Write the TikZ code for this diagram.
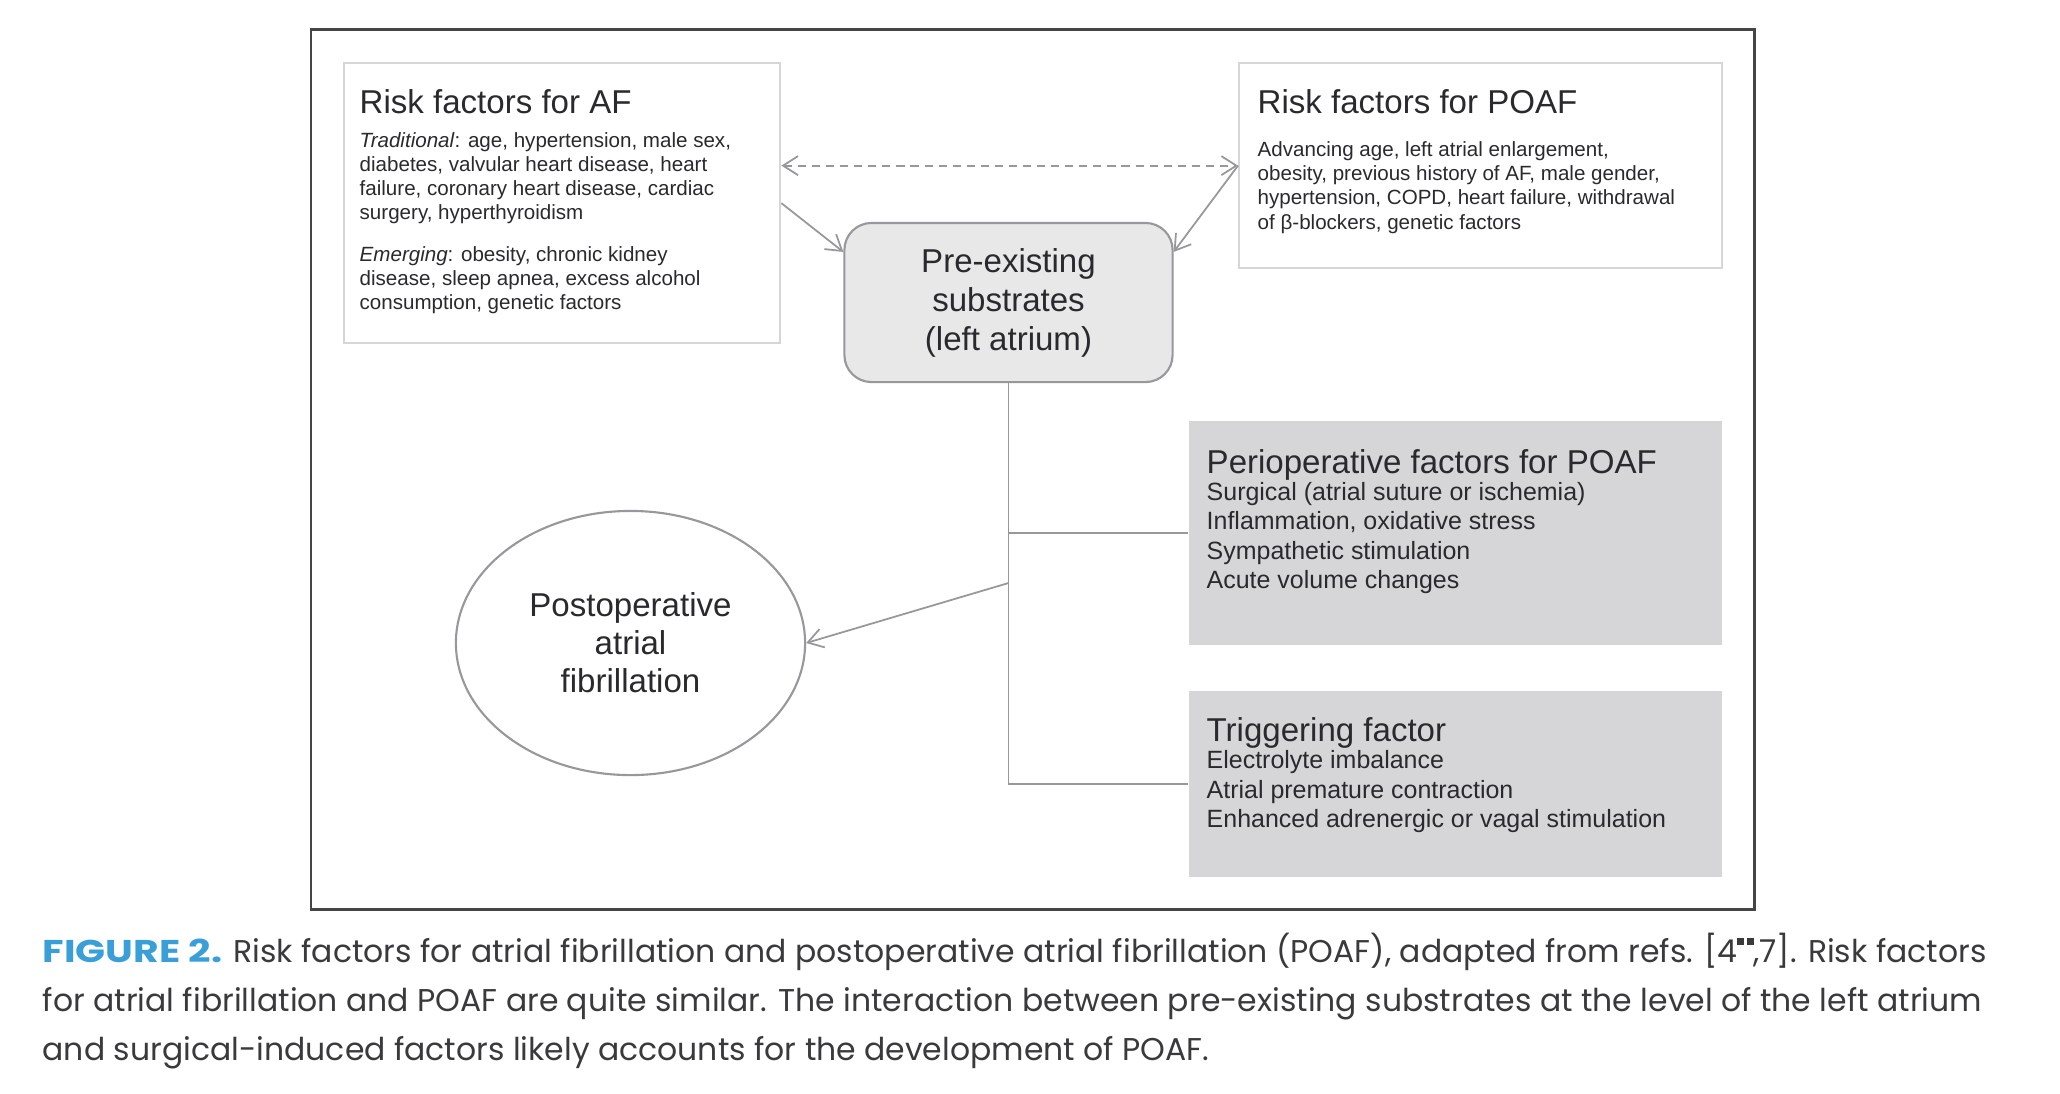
\documentclass[tikz,border=0pt]{standalone}
\usepackage{fontspec}
\usepackage{tikz}
\usepackage{xcolor}
\usetikzlibrary{arrows.meta,positioning,shapes.geometric}
\setmainfont{Liberation Sans}
\newfontfamily\capfont{Poppins}
\newfontfamily\figfont{Poppins}[FakeStretch=1.25]
\definecolor{ink}{HTML}{2A2A2E}
\definecolor{capink}{HTML}{3A3A3C}
\definecolor{frame}{HTML}{454547}
\definecolor{edge}{HTML}{D6D6D8}
\definecolor{wire}{HTML}{98989C}
\definecolor{subfill}{HTML}{E8E8E9}
\definecolor{factfill}{HTML}{D6D6D8}
\definecolor{figblue}{HTML}{3A9FD9}

\begin{document}
\begin{tikzpicture}[x=0.01cm, y=-0.01cm,
  text=ink,
  riskbox/.style={draw=edge, line width=0.6pt, fill=white, anchor=north west, inner sep=0pt},
  factbox/.style={fill=factfill, anchor=north west, inner sep=0pt},
  head/.style={anchor=base west, inner sep=0pt, font=\fontsize{9.4}{11}\selectfont},
  body/.style={anchor=base west, inner sep=0pt, align=left, font=\fontsize{5.85}{6.74}\selectfont},
  fact/.style={anchor=base west, inner sep=0pt, align=left, font=\fontsize{7.1}{8.25}\selectfont},
  wire/.style={draw=wire, line width=0.5pt},
  ar/.style={wire, -{Straight Barb[length=1.5mm,width=1.9mm]}},
]
\fill[white] (0,0) rectangle (2060,1093);
\useasboundingbox (0,0) rectangle (2060,1093);
\draw[frame, line width=0.85pt] (311,29) rectangle (1754,909);

\node[riskbox, minimum width=4.36cm, minimum height=2.80cm] (af) at (343,62) {};
\node[head] (aft) at (359,113) {Risk factors for AF};
\node[body] (afa) at (359,219) {\textit{Traditional}: age, hypertension, male sex,\\
  diabetes, valvular heart disease, heart\\
  failure, coronary heart disease, cardiac\\
  surgery, hyperthyroidism};
\node[body] (afb) at (359,309) {\textit{Emerging}: obesity, chronic kidney\\
  disease, sleep apnea, excess alcohol\\
  consumption, genetic factors};

\node[riskbox, minimum width=4.83cm, minimum height=2.05cm] (poaf) at (1238,62) {};
\node[head] (poaft) at (1257,113) {Risk factors for POAF};
\node[body, font=\fontsize{5.85}{6.85}\selectfont] (poafb) at (1257,229) {Advancing age, left atrial enlargement,\\
  obesity, previous history of AF, male gender,\\
  hypertension, COPD, heart failure, withdrawal\\
  of β-blockers, genetic factors};

\node[draw=wire, line width=0.6pt, fill=subfill, rounded corners=0.27cm,
  minimum width=3.28cm, minimum height=1.59cm, align=center,
  font=\fontsize{9.4}{11.1}\selectfont] (pre) at (1008.5,302.5)
  {Pre-existing\\substrates\\(left atrium)};

\node[factbox, minimum width=5.33cm, minimum height=2.24cm] (peri) at (1188,420) {};
\node[head] (perit) at (1206,473) {Perioperative factors for POAF};
\node[fact] (perib) at (1206,588) {Surgical (atrial suture or ischemia)\\
  Inflammation, oxidative stress\\
  Sympathetic stimulation\\
  Acute volume changes};

\node[factbox, minimum width=5.33cm, minimum height=1.86cm] (trig) at (1188,690) {};
\node[head] (trigt) at (1206,741) {Triggering factor};
\node[fact] (trigb) at (1206,827) {Electrolyte imbalance\\
  Atrial premature contraction\\
  Enhanced adrenergic or vagal stimulation};

\node[ellipse, draw=wire, line width=0.6pt, minimum width=3.49cm, minimum height=2.64cm,
  align=center, inner sep=0pt, font=\fontsize{9.4}{10.8}\selectfont] (post) at (630.5,643)
  {Postoperative\\atrial\\fibrillation};

\draw[wire, {Straight Barb[length=1.5mm,width=1.9mm]}-{Straight Barb[length=1.5mm,width=1.9mm]},
  dash pattern=on 2.3pt off 1.7pt] (af.east |- poaf.west) -- (poaf.west);
\draw[ar] (af.east) -- ([yshift=-3mm]pre.north west);
\draw[ar] (poaf.west) -- ([yshift=-3mm]pre.north east);
\draw[wire] (pre.south) |- (trig.west);
\draw[wire] (pre.south |- peri.west) -- (peri.west);
\coordinate (tap) at (1008.5,583);
\draw[ar] (tap) -- (post.east);

\node[anchor=base west, inner sep=0pt, align=left, text=capink,
  font=\capfont\fontsize{8.95}{13.8}\selectfont] (cap) at (42,1060)
  {{\figfont\bfseries\color{figblue}FIGURE 2.} Risk factors for atrial fibrillation and postoperative atrial fibrillation (POAF), adapted from refs. [4\raisebox{0.56em}{\rule{0.22em}{0.22em}\hspace{0.07em}\rule{0.22em}{0.22em}},7]. Risk factors\\
  for atrial fibrillation and POAF are quite similar. The interaction between pre-existing substrates at the level of the left atrium\\
  and surgical-induced factors likely accounts for the development of POAF.};
\end{tikzpicture}
\end{document}
